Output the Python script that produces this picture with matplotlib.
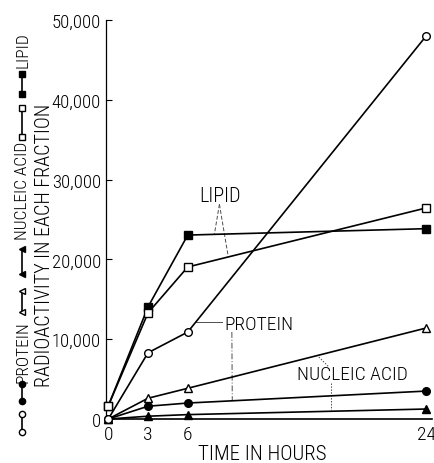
import matplotlib
matplotlib.use("Agg")
import matplotlib.pyplot as plt
from matplotlib.lines import Line2D

# données
hours = [0, 3, 6, 24]
protein_open = [0, 8300, 10900, 48000]
protein_filled = [0, 1600, 2000, 3500]
nucleic_open = [0, 2600, 3850, 11400]
nucleic_filled = [0, 350, 550, 1250]
lipid_open = [1650, 13300, 19050, 26450]
lipid_filled = [1650, 14050, 23050, 23850]

yticks = [0, 10000, 20000, 30000, 40000, 50000]
ytick_labels = ["0", "10,000", "20,000", "30,000", "40,000", "50,000"]
xtick_labels = ["0", "3", "6", "24"]

plt.rcParams["font.family"] = ["Roboto Condensed", "Archivo Narrow", "DejaVu Sans"]
plt.rcParams["font.weight"] = "light"

W, H = 435, 464
fig = plt.figure(figsize=(W / 100, H / 100), dpi=100)

def px(x, y):
    return x / W, 1 - y / H

ax = fig.add_axes([106.5 / W, 44 / H, (432 - 106.5) / W, 399 / H])
ax.set_xlim(-0.135, 24.44)
ax.set_ylim(0, 50000)

for s in ["top", "right"]:
    ax.spines[s].set_visible(False)
ax.spines["left"].set_linewidth(0.9)
ax.spines["bottom"].set_linewidth(1.2)

ax.set_yticks(yticks)
ax.set_yticklabels(ytick_labels)
ax.set_xticks(hours)
ax.set_xticklabels(xtick_labels)
ax.tick_params(axis="y", direction="in", length=4, width=0.8, pad=4, labelsize=13.5)
ax.tick_params(axis="x", direction="in", length=0, pad=4, labelsize=14)

lw = 1.2
ms = 5.5
# ordre: les marqueurs creux par-dessus
ax.plot(hours, lipid_filled, "-s", color="k", lw=lw, ms=ms, mfc="k", clip_on=False, zorder=3)
ax.plot(hours, lipid_open, "-s", color="k", lw=lw, ms=ms, mfc="white", clip_on=False, zorder=4)
ax.plot(hours, nucleic_filled, "-^", color="k", lw=lw, ms=ms, mfc="k", clip_on=False, zorder=3)
ax.plot(hours, nucleic_open, "-^", color="k", lw=lw, ms=ms, mfc="white", clip_on=False, zorder=4)
ax.plot(hours, protein_filled, "-o", color="k", lw=lw, ms=ms, mfc="k", clip_on=False, zorder=3)
ax.plot(hours, protein_open, "-o", color="k", lw=lw, ms=ms, mfc="white", clip_on=False, zorder=5)

# étiquettes dans le graphe
lead = dict(color="0.3", lw=0.7)
ax.text(8.46, 27950, "LIPID", fontsize=14.5, ha="center", va="center")
ax.plot([8.39, 8.01], [26900, 23150], ls=(0, (4, 2)), **lead)
ax.plot([8.39, 9.06], [26900, 20300], ls=(0, (4, 2)), **lead)

ax.text(8.75, 11950, "PROTEIN", fontsize=14, ha="left", va="center")
ax.plot([6.51, 8.6], [12150, 12150], **lead)
ax.plot([9.33, 9.36], [10900, 2290], ls=(0, (6, 2, 1, 2)), **lead)

ax.text(14.25, 5700, "NUCLEIC ACID", fontsize=14, ha="left", va="center")
ax.plot([15.9, 16.65], [7770, 6520], ls=(0, (1.5, 1.5)), **lead)
ax.plot([16.83, 16.83], [4510, 1130], ls=(0, (1.5, 1.5)), **lead)

fig.text(*px(262, 455), "TIME IN HOURS", fontsize=15, ha="center", va="center")
fig.text(*px(45, 245), "RADIOACTIVITY IN EACH FRACTION", fontsize=14.5,
         rotation=90, ha="center", va="center")

# légende verticale à gauche
legend_pairs = [
    (433, 415, "o", "white"),
    (402, 385, "o", "k"),
    (313, 292, "<", "white"),
    (275, 250, "<", "k"),
    (138, 109, "s", "white"),
    (95, 75, "s", "k"),
]
for y1, y2, m, fc in legend_pairs:
    x0, a = px(22, y1)
    _, b = px(22, y2)
    fig.add_artist(Line2D([x0, x0], [a, b], transform=fig.transFigure, color="k",
                          lw=1.2, marker=m, ms=4.5, mfc=fc, mec="k"))

for yc, txt in [(352, "PROTEIN"), (191, "NUCLEIC ACID"), (50, "LIPID")]:
    fig.text(*px(23, yc), txt, fontsize=12.5, rotation=90, ha="center", va="center")

fig.savefig("out.png", dpi=100)
